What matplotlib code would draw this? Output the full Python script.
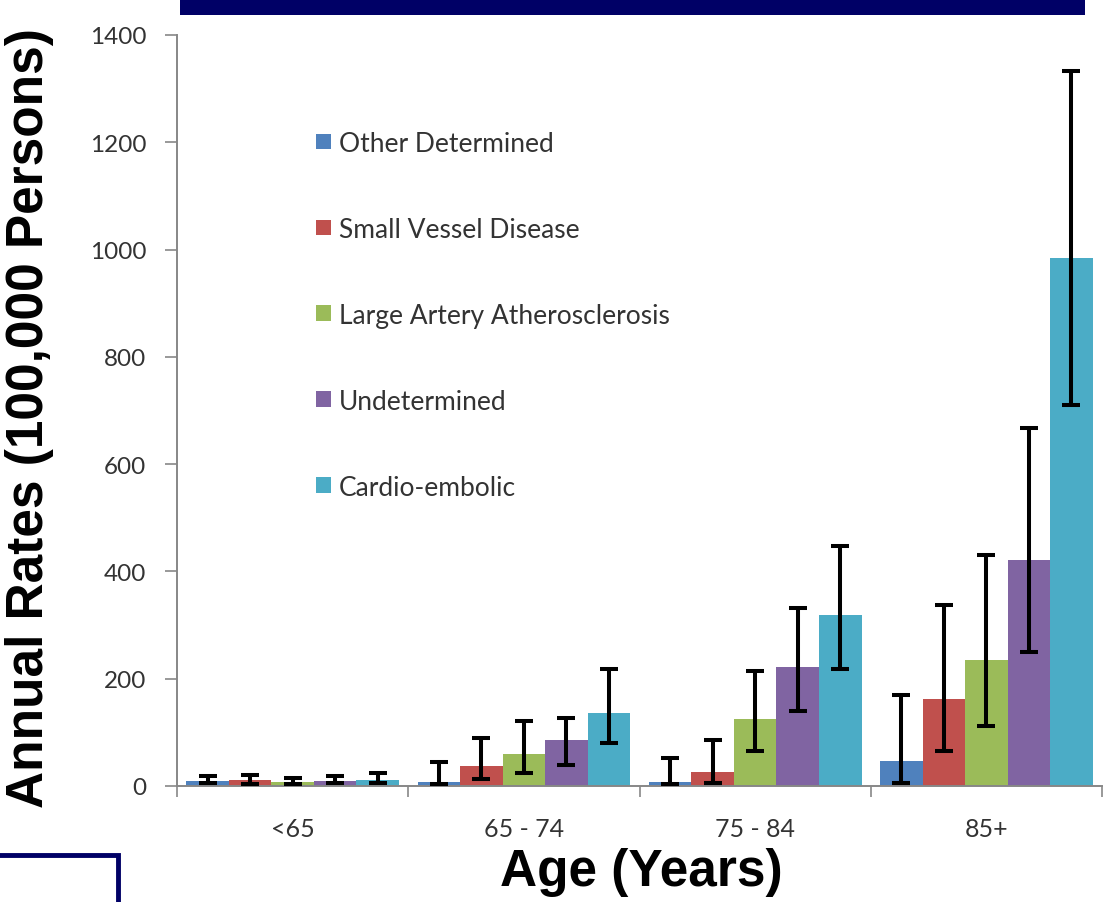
"""Annual ischemic stroke rates by subtype and age group, bar chart with error bars."""

import matplotlib

matplotlib.use("Agg")
import matplotlib.pyplot as plt
import numpy as np
from matplotlib.patches import Patch, Rectangle

AGE_GROUPS = ["<65", "65 - 74", "75 - 84", "85+"]
SUBTYPES = [
    "Other Determined",
    "Small Vessel Disease",
    "Large Artery Atherosclerosis",
    "Undetermined",
    "Cardio-embolic",
]
COLORS = ["#4F81BD", "#C0504D", "#9BBB59", "#8064A2", "#4BACC6"]

# rows = subtype, cols = age group
RATES = [
    [10, 7, 8, 46],
    [12, 37, 27, 162],
    [7, 60, 124, 234],
    [9, 85, 221, 422],
    [12, 137, 318, 984],
]
CI_LOW = [
    [5, 4, 4, 5],
    [4, 13, 6, 66],
    [4, 24, 66, 112],
    [5, 40, 139, 249],
    [6, 80, 219, 711],
]
CI_HIGH = [
    [19, 44, 53, 170],
    [20, 89, 86, 338],
    [14, 122, 214, 431],
    [19, 127, 332, 667],
    [24, 219, 447, 1333],
]

W, H = 1111, 903
fig = plt.figure(figsize=(W / 100, H / 100), dpi=100)
ax = fig.add_axes([177 / W, 1 - 787 / H, (1102 - 177) / W, (787 - 36) / H])

tick_font = "Lato"
grey = "#878787"
bar_w = 0.184
x = np.arange(len(AGE_GROUPS))
for i, (name, color) in enumerate(zip(SUBTYPES, COLORS)):
    vals = np.array(RATES[i])
    lo = vals - np.array(CI_LOW[i])
    hi = np.array(CI_HIGH[i]) - vals
    pos = x + (i - 2) * bar_w
    ax.bar(pos, vals, width=bar_w, color=color, label=name, zorder=2)
    ax.errorbar(pos, vals, yerr=[lo, hi], fmt="none", ecolor="black",
                elinewidth=2.9, capsize=6.2, capthick=2.9, zorder=3)

ax.set_xlim(-0.5, len(AGE_GROUPS) - 0.5)
ax.set_ylim(0, 1400)
ax.set_yticks(np.arange(0, 1401, 200))
ax.set_xticks(x)
ax.set_xticklabels(AGE_GROUPS)
ax.set_xticks(np.arange(-0.5, len(AGE_GROUPS), 1.0), minor=True)
ax.tick_params(axis="x", which="major", length=0, pad=22,
               labelsize=18, labelcolor="#333333")
ax.tick_params(axis="x", which="minor", length=8, width=1.2, color=grey)
ax.tick_params(axis="y", length=9, width=1.2, color=grey, pad=13,
               labelsize=17.5, labelcolor="#333333")
for lab in ax.get_xticklabels() + ax.get_yticklabels():
    lab.set_fontfamily(tick_font)

for side in ("top", "right"):
    ax.spines[side].set_visible(False)
for side in ("left", "bottom"):
    ax.spines[side].set_color(grey)
    ax.spines[side].set_linewidth(1.4)

handles = [Patch(facecolor=c, edgecolor="none") for c in COLORS]
leg = ax.legend(handles, SUBTYPES, loc="upper left",
                bbox_to_anchor=(0.125, 0.904), frameon=False,
                prop={"family": tick_font, "size": 19},
                labelspacing=2.31, handlelength=0.55, handleheight=0.55,
                handletextpad=0.3)
for t in leg.get_texts():
    t.set_color("#333333")

fig.text(30 / W, 1 - 418 / H, "Annual Rates (100,000 Persons)",
         rotation=90, ha="center", va="center",
         fontsize=37, fontweight="bold", family="Liberation Sans")
fig.text(641 / W, 1 - 873 / H, "Age (Years)", ha="center", va="center",
         fontsize=37, fontweight="bold", family="Liberation Sans")

# navy banner at top and framed box at lower left (slide decoration)
fig.patches.append(Rectangle((180 / W, 1 - 16 / H), (1085 - 180) / W, 20 / H,
                             transform=fig.transFigure, facecolor="#000066",
                             edgecolor="none"))
fig.patches.append(Rectangle((-10 / W, -10 / H), 128 / W, (903 - 856 + 10) / H,
                             transform=fig.transFigure, facecolor="none",
                             edgecolor="#000066", linewidth=3.5))

fig.savefig("out.png", dpi=100)
